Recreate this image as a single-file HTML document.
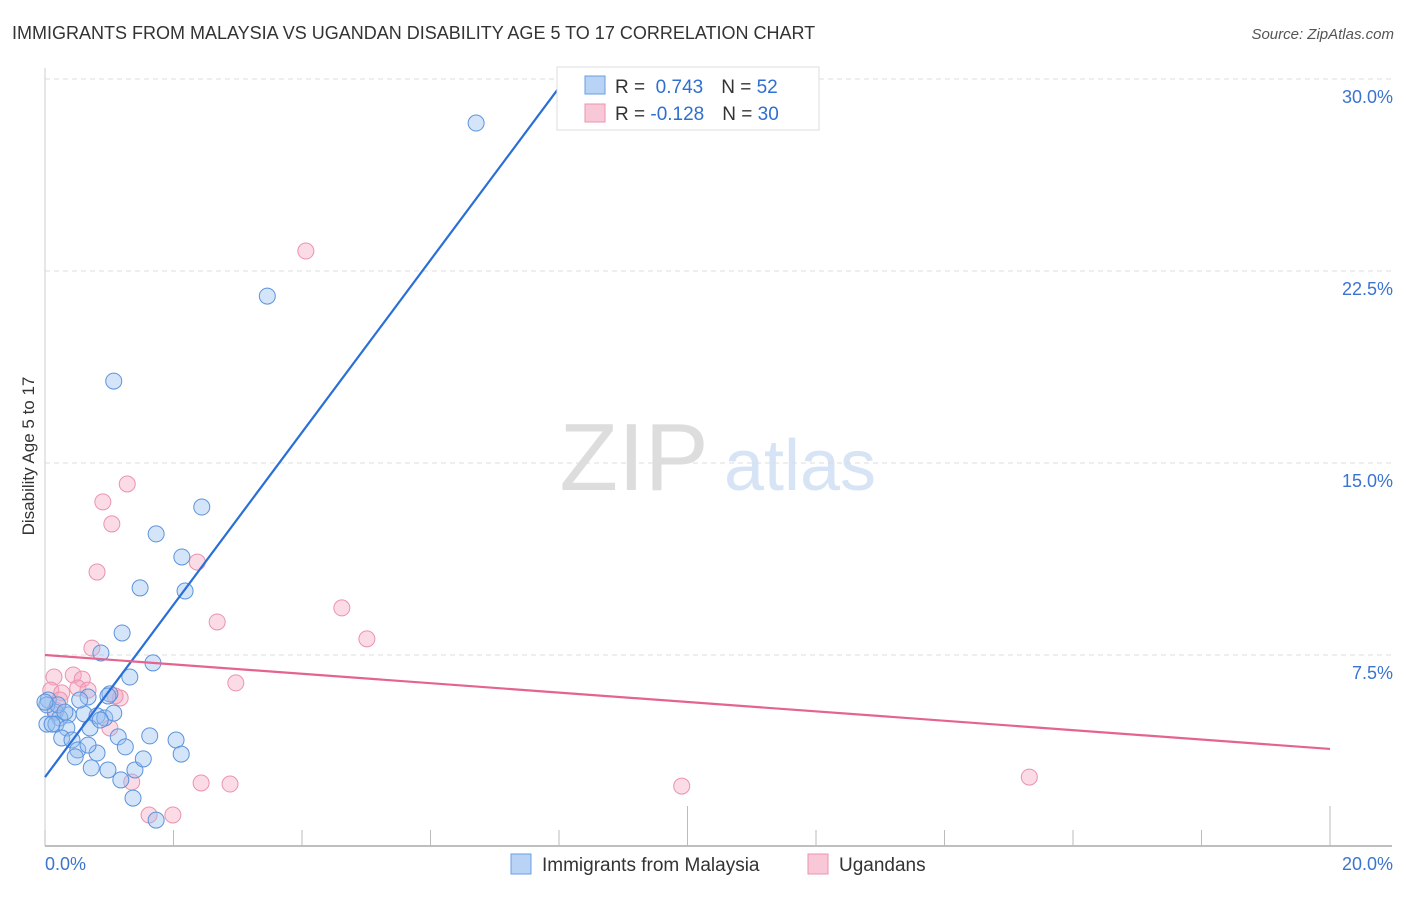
<!DOCTYPE html>
<html><head><meta charset="utf-8"><style>
body{margin:0;background:#fff;font-family:"Liberation Sans",sans-serif}
svg text{font-family:"Liberation Sans",sans-serif}
</style></head><body>
<svg id="chart" width="1406" height="892">
<text x="12" y="39" font-size="18" fill="#333">IMMIGRANTS FROM MALAYSIA VS UGANDAN DISABILITY AGE 5 TO 17 CORRELATION CHART</text>
<text x="1394" y="39" font-size="15" fill="#555" font-style="italic" text-anchor="end">Source: ZipAtlas.com</text>
<text transform="translate(34,456) rotate(-90)" font-size="17" fill="#333" text-anchor="middle">Disability Age 5 to 17</text>
<g><text x="634" y="490" font-size="96" fill="#ddd" font-family="Liberation Serif" text-anchor="middle">ZIP</text><text x="800" y="490" font-size="72" fill="#d6e4f5" text-anchor="middle">atlas</text></g>
<g id="grid"></g><g id="axes"></g><g id="pts"></g><g id="lines"></g>
<g>
<rect x="557" y="67" width="262" height="63" fill="#fff" stroke="#ddd"/>
<rect x="585" y="76" width="20" height="18" fill="#b8d3f5" stroke="#6a9ee0"/>
<rect x="585" y="104" width="20" height="18" fill="#f9c8d6" stroke="#eb93ad"/>
<text x="615" y="93" font-size="19" fill="#333">R = <tspan fill="#2f6fd0">&#160;0.743</tspan><tspan dx="18">N = </tspan><tspan fill="#2f6fd0">52</tspan></text>
<text x="615" y="120" font-size="19" fill="#333">R = <tspan fill="#2f6fd0">-0.128</tspan><tspan dx="18">N = </tspan><tspan fill="#2f6fd0">30</tspan></text>
</g>
<g>
<rect x="511" y="854" width="20" height="20" fill="#b8d3f5" stroke="#6a9ee0"/>
<text x="542" y="871" font-size="19" fill="#333">Immigrants from Malaysia</text>
<rect x="808" y="854" width="20" height="20" fill="#f9c8d6" stroke="#eb93ad"/>
<text x="839" y="871" font-size="19" fill="#333">Ugandans</text>
</g>
</svg>
<script>
const yTicks=[7.5,15,22.5,30];
const yTickLabels=["7.5%","15.0%","22.5%","30.0%"];
const xTickLabels=["0.0%","20.0%"];
const blueX=[6.71,3.46,1.07,2.44,1.73,2.13,1.48,2.18,1.20,0.87,1.68,1.32,1.01,0.98,0.67,0.05,0.16,0.36,0.61,0.81,0.93,0.23,0.03,0.17,0.34,0.70,0.26,0.42,1.63,2.04,1.14,1.25,0.81,0.51,0.47,0.98,0.72,1.40,1.53,2.12,1.18,1.37,1.73,0.03,0.11,0.20,0.54,1.07,0.31,0.67,0.86,0.00];
const blueY=[28.28,21.52,18.20,13.28,12.23,11.33,10.12,10.00,8.36,7.58,7.19,6.64,5.98,5.90,5.86,5.74,5.27,5.16,5.20,5.12,5.04,5.04,4.80,4.80,4.65,4.65,4.26,4.18,4.34,4.18,4.30,3.91,3.67,3.79,3.52,3.01,3.09,3.01,3.44,3.63,2.62,1.91,1.05,5.55,4.80,5.55,5.74,5.23,5.27,3.98,4.96,5.66];
const pinkX=[4.06,1.28,0.90,1.04,0.81,2.37,4.62,2.68,5.01,0.73,2.97,0.14,0.44,0.58,0.09,0.26,0.51,0.67,1.17,1.09,1.01,2.43,2.88,9.91,15.32,1.35,1.62,1.99,0.16,0.23];
const pinkY=[23.28,14.18,13.48,12.62,10.74,11.13,9.34,8.79,8.13,7.77,6.41,6.64,6.72,6.56,6.13,6.02,6.21,6.13,5.82,5.90,4.65,2.50,2.46,2.38,2.73,2.54,1.25,1.25,5.35,5.74];
const blueTrend=[[0,2.73],[8.02,29.73]];
const pinkTrend=[[0,7.5],[20,3.83]];
const NS="http://www.w3.org/2000/svg";
const X=v=>45+v*64.25, Y=v=>847-v*25.6;
function mk(t,a,p){const e=document.createElementNS(NS,t);for(const k in a)e.setAttribute(k,a[k]);document.getElementById(p).appendChild(e);return e;}
yTicks.forEach((t,i)=>{
 const g=mk('line',{x1:45,x2:1392,y1:Y(t),y2:Y(t),stroke:'#ddd','stroke-dasharray':'5,4'},'grid');
 
 
 const l=mk('text',{x:1393,y:Y(t)+24,'font-size':18,fill:'#3b74d0','text-anchor':'end'},'axes');l.textContent=yTickLabels[i];
 
 
});
const ax=mk('line',{x1:45,x2:1392,y1:846,y2:846,stroke:'#aaa','stroke-width':1.5},'axes');


const ay=mk('line',{x1:45,x2:45,y1:68,y2:846,stroke:'#ccc'},'axes');


for(let i=0;i<=10;i++){const tk=mk('line',{x1:X(i*2),x2:X(i*2),y1:(i==5||i==10)?806:830,y2:846,stroke:'#bbb'},'axes');
 
 }
[[0,'start',45],[20,'end',1393]].forEach((d,i)=>{const t=mk('text',{x:d[2],y:870,'font-size':18,fill:'#3b74d0','text-anchor':d[1]},'axes');t.textContent=xTickLabels[i];
 
 });
pinkX.forEach((x,i)=>{const c=mk('circle',{cx:X(x),cy:Y(pinkY[i]),r:8,fill:'rgba(244,165,190,0.4)',stroke:'#eb93ad'},'pts');
 
 });
blueX.forEach((x,i)=>{const c=mk('circle',{cx:X(x),cy:Y(blueY[i]),r:8,fill:'rgba(150,190,240,0.4)',stroke:'#5b93dc'},'pts');
 
 });
const bl=mk('line',{x1:X(blueTrend[0][0]),y1:Y(blueTrend[0][1]),x2:X(blueTrend[1][0]),y2:Y(blueTrend[1][1]),stroke:'#2a6fd6','stroke-width':2.2},'lines');


const pl=mk('line',{x1:X(pinkTrend[0][0]),y1:Y(pinkTrend[0][1]),x2:X(pinkTrend[1][0]),y2:Y(pinkTrend[1][1]),stroke:'#e4648e','stroke-width':2.2},'lines');


</script>
</body></html>
